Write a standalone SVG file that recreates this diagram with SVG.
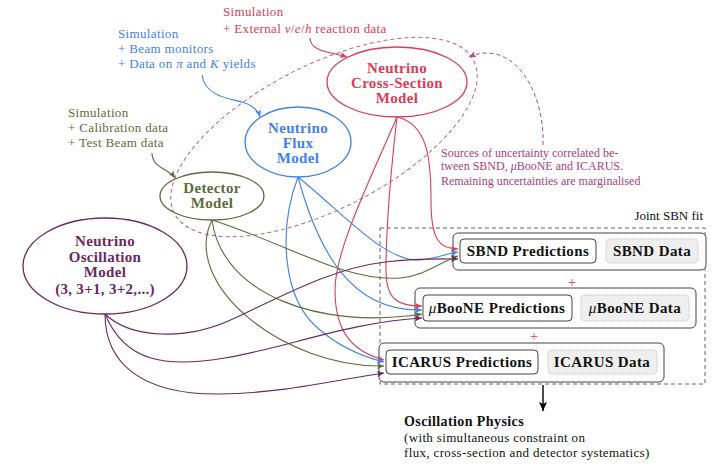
<svg xmlns="http://www.w3.org/2000/svg" width="722" height="473" viewBox="0 0 722 473" font-family="'Liberation Serif', 'DejaVu Serif', serif">
<defs>
<style>
text{font-family:'Liberation Serif','DejaVu Serif',serif;}
.ann{font-size:13px;letter-spacing:0.35px;}
.lbl{font-size:15px;font-weight:bold;letter-spacing:0.3px;text-anchor:middle;}
.box{font-size:15px;font-weight:bold;letter-spacing:0.4px;text-anchor:middle;fill:#111;}
.conn{fill:none;stroke-width:1.1;}
.red{stroke:#dc3c55;} .blue{stroke:#3f82ee;} .olive{stroke:#5f6b3a;} .purple{stroke:#6a2a5e;}
.it{font-style:italic;}
</style>
<marker id="aR" markerUnits="userSpaceOnUse" markerWidth="8" markerHeight="6" refX="7" refY="3" orient="auto"><path d="M0,0 L7,3 L0,6 L1.5,3 z" fill="#dc3c55"/></marker>
<marker id="aB" markerUnits="userSpaceOnUse" markerWidth="8" markerHeight="6" refX="7" refY="3" orient="auto"><path d="M0,0 L7,3 L0,6 L1.5,3 z" fill="#3f82ee"/></marker>
<marker id="aO" markerUnits="userSpaceOnUse" markerWidth="8" markerHeight="6" refX="7" refY="3" orient="auto"><path d="M0,0 L7,3 L0,6 L1.5,3 z" fill="#5f6b3a"/></marker>
<marker id="aP" markerUnits="userSpaceOnUse" markerWidth="8" markerHeight="6" refX="7" refY="3" orient="auto"><path d="M0,0 L7,3 L0,6 L1.5,3 z" fill="#6a2a5e"/></marker>
<marker id="aD" markerUnits="userSpaceOnUse" markerWidth="8" markerHeight="6" refX="7" refY="3" orient="auto"><path d="M0,0 L7,3 L0,6 L1.5,3 z" fill="#b04c82"/></marker>
<marker id="aK" markerUnits="userSpaceOnUse" markerWidth="10" markerHeight="8" refX="9" refY="4" orient="auto"><path d="M0,0 L9,4 L0,8 L2,4 z" fill="#000"/></marker>
</defs>
<rect width="722" height="473" fill="#fff"/>

<!-- annotations -->
<g id="ann-xsec" fill="#dc3c55" class="ann">
<text x="223" y="16">Simulation</text>
<text x="223" y="33">+ External <tspan class="it">ν</tspan>/<tspan class="it">e</tspan>/<tspan class="it">h</tspan> reaction data</text>
</g>
<g id="ann-flux" fill="#3f82ee" class="ann">
<text x="118" y="38">Simulation</text>
<text x="118" y="53">+ Beam monitors</text>
<text x="118" y="68">+ Data on <tspan class="it">π</tspan> and <tspan class="it">K</tspan> yields</text>
</g>
<g id="ann-det" fill="#5f6b3a" class="ann">
<text x="68" y="117">Simulation</text>
<text x="68" y="132">+ Calibration data</text>
<text x="68" y="147">+ Test Beam data</text>
</g>

<!-- nodes -->
<g id="node-xsec">
<ellipse cx="397" cy="82" rx="70" ry="35" fill="#fff" stroke="#dc3c55" stroke-width="1.3"/>
<g class="lbl" fill="#dc3c55"><text x="397" y="73">Neutrino</text><text x="397" y="88">Cross-Section</text><text x="397" y="103">Model</text></g>
</g>
<g id="node-flux">
<ellipse cx="298" cy="142" rx="53" ry="35" fill="#fff" stroke="#3f82ee" stroke-width="1.3"/>
<g class="lbl" fill="#3f82ee"><text x="298" y="133">Neutrino</text><text x="298" y="148">Flux</text><text x="298" y="163">Model</text></g>
</g>
<g id="node-det">
<ellipse cx="212" cy="196" rx="52" ry="24" fill="#fff" stroke="#5f6b3a" stroke-width="1.3"/>
<g class="lbl" fill="#5f6b3a"><text x="212" y="193">Detector</text><text x="212" y="208">Model</text></g>
</g>
<g id="node-osc">
<ellipse cx="105" cy="266" rx="82" ry="48" fill="#fff" stroke="#6a2a5e" stroke-width="1.3"/>
<g class="lbl" fill="#6a2a5e"><text x="105" y="246">Neutrino</text><text x="105" y="262">Oscillation</text><text x="105" y="277">Model</text><text x="105" y="294">(3, 3+1, 3+2,...)</text></g>
</g>

<!-- correlated uncertainties region -->
<g id="correlated">
<ellipse cx="324" cy="137" rx="168" ry="72" transform="rotate(-27 324 137)" fill="none" stroke="#c0608a" stroke-width="1" stroke-dasharray="4,3"/>
<g fill="#a8427e" font-size="12px">
<text x="441" y="157">Sources of uncertainty correlated be-</text>
<text x="441" y="170">tween SBND, <tspan class="it">μ</tspan>BooNE and ICARUS.</text>
<text x="441" y="185">Remaining uncertainties are marginalised</text>
</g>
</g>

<!-- joint fit -->
<g id="joint-fit">
<rect x="380" y="228" width="325" height="156" fill="none" stroke="#666" stroke-width="1" stroke-dasharray="4,3"/>
<text x="703" y="220" font-size="13px" text-anchor="end" fill="#111">Joint SBN fit</text>
</g>
<g id="node-sbnd">
<rect x="453" y="233" width="253" height="37" rx="5" fill="#fff" stroke="#444" stroke-width="1"/>
<rect x="460" y="239" width="136" height="24" rx="4" fill="#fff" stroke="#444" stroke-width="1"/>
<text class="box" x="528" y="256">SBND Predictions</text>
<rect x="606" y="239" width="92" height="24" rx="4" fill="#efefef" stroke="#aaa" stroke-width="0.8" stroke-dasharray="1,1"/>
<text class="box" x="652" y="256">SBND Data</text>
</g>
<text x="572" y="287" font-size="15px" fill="#e0405a" text-anchor="middle">+</text>
<g id="node-uboone">
<rect x="415" y="288" width="281" height="40" rx="5" fill="#fff" stroke="#444" stroke-width="1"/>
<rect x="423" y="295" width="149" height="26" rx="4" fill="#fff" stroke="#444" stroke-width="1"/>
<text class="box" x="497" y="313"><tspan class="it" font-weight="normal">μ</tspan>BooNE Predictions</text>
<rect x="581" y="295" width="108" height="26" rx="4" fill="#efefef" stroke="#aaa" stroke-width="0.8" stroke-dasharray="1,1"/>
<text class="box" x="635" y="313"><tspan class="it" font-weight="normal">μ</tspan>BooNE Data</text>
</g>
<text x="534" y="341" font-size="15px" fill="#e0405a" text-anchor="middle">+</text>
<g id="node-icarus">
<rect x="379" y="343" width="285" height="39" rx="5" fill="#fff" stroke="#444" stroke-width="1"/>
<rect x="386" y="350" width="152" height="24" rx="4" fill="#fff" stroke="#444" stroke-width="1"/>
<text class="box" x="462" y="367">ICARUS Predictions</text>
<rect x="548" y="350" width="109" height="24" rx="4" fill="#efefef" stroke="#aaa" stroke-width="0.8" stroke-dasharray="1,1"/>
<text class="box" x="602" y="367">ICARUS Data</text>
</g>
<g id="node-result" fill="#111">
<text x="404" y="426" font-size="14px" font-weight="bold" letter-spacing="0.4px">Oscillation Physics</text>
<text x="404" y="442" class="ann" letter-spacing="0.45px">(with simultaneous constraint on</text>
<text x="404" y="457" class="ann" letter-spacing="0.45px">flux, cross-section and detector systematics)</text>
</g>

<!-- connectors -->
<g id="connectors">
<path class="conn red" d="M310,38 C310,52 332,52 347,57" marker-end="url(#aR)"/>
<path class="conn blue" d="M202,75 C205,95 225,98 242,102 C252,105 258,110 260,117" marker-end="url(#aB)"/>
<path class="conn olive" d="M152,153 C152,168 168,168 175,178" marker-end="url(#aO)"/>
<path fill="none" stroke="#b04c82" stroke-width="1" stroke-dasharray="4,3" d="M543,145 C545,90 512,38 469,57" marker-end="url(#aD)"/>

<path class="conn red" d="M397,117 C428,124 431,160 431,200 C431,238 438,249 458,249" marker-end="url(#aR)"/>
<path class="conn red" d="M397,117 C391,170 386,230 386,270 C386,300 398,306 422,306" marker-end="url(#aR)"/>
<path class="conn red" d="M397,117 C370,180 335,250 335,290 C335,335 355,352 384,360" marker-end="url(#aR)"/>

<path class="conn blue" d="M298,177 C345,215 385,262 420,260 C435,259 445,254 458,252" marker-end="url(#aB)"/>
<path class="conn blue" d="M298,177 C318,250 350,312 422,310" marker-end="url(#aB)"/>
<path class="conn blue" d="M298,177 C278,230 282,300 320,330 C340,347 360,356 384,362" marker-end="url(#aB)"/>

<path class="conn olive" d="M212,220 C290,245 345,282 400,278 C425,276 440,262 458,256" marker-end="url(#aO)"/>
<path class="conn olive" d="M212,220 C222,295 320,330 422,314" marker-end="url(#aO)"/>
<path class="conn olive" d="M212,220 C180,285 285,368 384,366" marker-end="url(#aO)"/>

<path class="conn purple" d="M105,314 C130,338 185,342 235,318 C290,292 335,268 385,262 C420,258 440,259 458,259" marker-end="url(#aP)"/>
<path class="conn purple" d="M105,314 C125,362 165,368 225,358 C285,348 350,322 422,318" marker-end="url(#aP)"/>
<path class="conn purple" d="M105,314 C105,362 140,395 220,394 C285,393 335,380 384,373" marker-end="url(#aP)"/>

<path fill="none" stroke="#000" stroke-width="1.4" d="M543,385 L543,411" marker-end="url(#aK)"/>
</g>
</svg>
